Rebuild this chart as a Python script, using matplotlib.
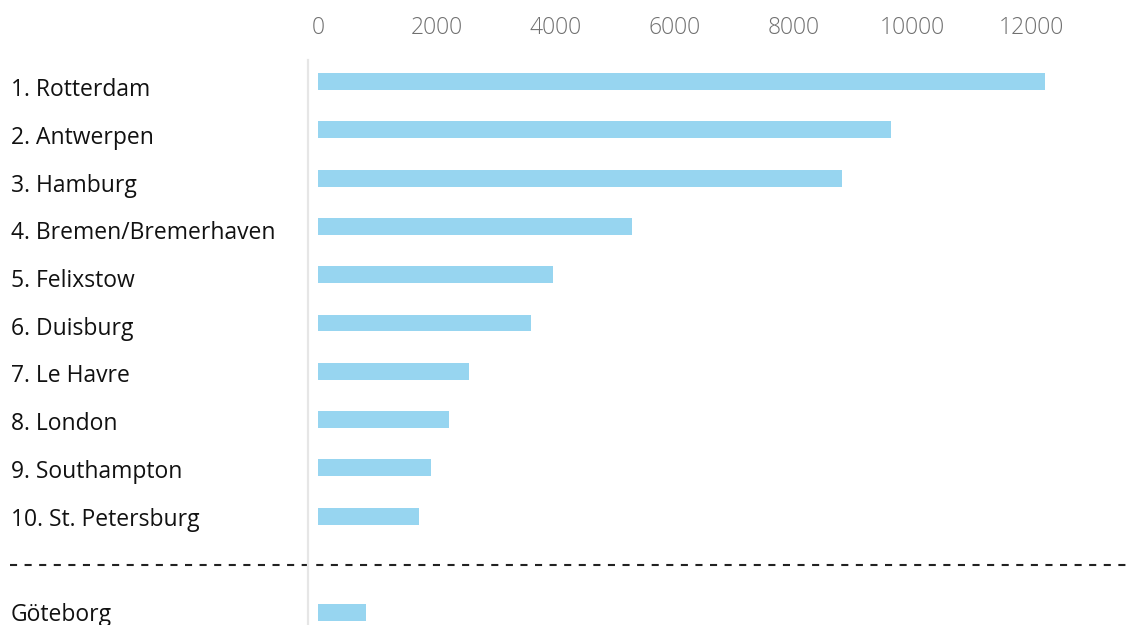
import matplotlib
matplotlib.use("Agg")
import matplotlib.pyplot as plt
from matplotlib.transforms import blended_transform_factory

ports = ["1. Rotterdam", "2. Antwerpen", "3. Hamburg", "4. Bremen/Bremerhaven",
         "5. Felixstow", "6. Duisburg", "7. Le Havre", "8. London",
         "9. Southampton", "10. St. Petersburg"]
values = [12230, 9650, 8820, 5290, 3960, 3590, 2540, 2200, 1910, 1700]
extra_label = "Göteborg"
extra_value = 800
xticks = [0, 2000, 4000, 6000, 8000, 10000, 12000]

plt.rcParams['font.family'] = ['Open Sans', 'DejaVu Sans']

W, H = 1131, 625
fig = plt.figure(figsize=(W / 100, H / 100), dpi=100)
# axes from x=308px to 1131px, y from 60px to 625px
ax = fig.add_axes([308 / W, 0, (W - 308) / W, (H - 60) / H])

bar_color = "#97d5f0"
positions = list(range(len(ports)))
ax.barh(positions, values, height=0.35, color=bar_color)
ax.barh([11], [extra_value], height=0.35, color=bar_color)

px_per_unit = (1031 - 318) / 12000
ax.set_xlim(-10 / px_per_unit, (W - 318) / px_per_unit)
row = 48.3
ax.set_ylim((625 - 81.5) / row, (60 - 81.5) / row)

ax.xaxis.tick_top()
ax.set_xticks(xticks)
ax.set_xticklabels([str(t) for t in xticks])
ax.tick_params(axis='x', length=0, pad=14.5, labelsize=16.5, labelcolor="#707070")
for lbl in ax.get_xticklabels():
    lbl.set_fontweight('light')
ax.set_yticks([])

for s in ["top", "right", "bottom"]:
    ax.spines[s].set_visible(False)
ax.spines["left"].set_color("#e6e6e6")
ax.spines["left"].set_linewidth(1.6)

# labels: baseline in pixels from top = 96 + 47.75*i
def label_y(i):
    return 1 - (96 + 47.75 * i) / H

for i, name in enumerate(ports):
    fig.text(11 / W, label_y(i), name, ha="left", va="baseline",
             fontsize=16.5, color="#111111")
fig.text(11 / W, label_y(11), extra_label, ha="left", va="baseline",
         fontsize=16.5, color="#111111")

tr = blended_transform_factory(fig.transFigure, ax.transData)
ax.plot([10 / W, 1128 / W], [10.02, 10.02], transform=tr, color="#222222",
        linestyle=(0, (3.4, 3.6)), linewidth=1.5, clip_on=False)

fig.savefig("out.png", dpi=100)
